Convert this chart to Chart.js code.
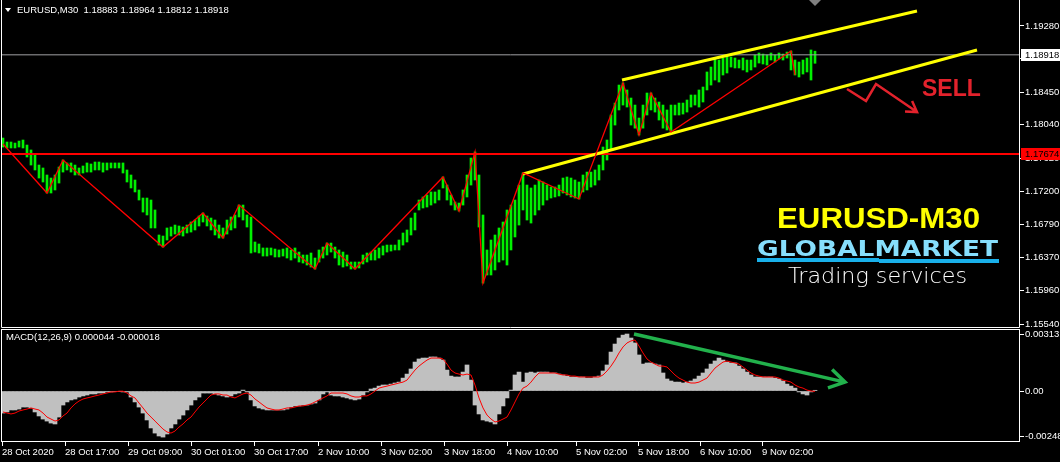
<!DOCTYPE html>
<html>
<head>
<meta charset="utf-8">
<script src="https://cdn.jsdelivr.net/npm/chart.js@4.4.1/dist/chart.umd.min.js"></script>
<style>
    html, body { margin: 0; padding: 0; background: #000; }
    #wrap { position: relative; width: 1060px; height: 462px; background: #000; overflow: hidden; }
    #priceBox { position: absolute; left: 0; top: 0; width: 1060px; height: 328px; }
    #macdBox { position: absolute; left: 0; top: 328px; width: 1060px; height: 134px; }
    canvas { display: block; }
</style>
</head>
<body>
<div id="wrap">
    <div id="priceBox"><canvas id="priceChart" width="1060" height="328"></canvas></div>
    <div id="macdBox"><canvas id="macdChart" width="1060" height="134"></canvas></div>
</div>
<script>
const symbolTitle = 'EURUSD,M30';
const lastQuote = ['1.18883', '1.18964', '1.18812', '1.18918'];
const macdTitle = 'MACD(12,26,9) 0.000044 -0.000018';

// one entry per hour
const barHigh = [
    1.17874, 1.17824, 1.17824, 1.17811, 1.17836, 1.17849, 1.17786, 1.17724, 1.17661, 1.17535,
    1.17498, 1.17410, 1.17372, 1.17410, 1.17510, 1.17598, 1.17561, 1.17561, 1.17535, 1.17498,
    1.17523, 1.17561, 1.17548, 1.17573, 1.17573, 1.17561, 1.17561, 1.17561, 1.17561, 1.17561,
    1.17561, 1.17473, 1.17410, 1.17347, 1.17222, 1.17121, 1.17121, 1.17096, 1.16971, 1.16657,
    1.16644, 1.16745, 1.16757, 1.16782, 1.16770, 1.16757, 1.16782, 1.16820, 1.16845, 1.16895,
    1.16933, 1.16895, 1.16870, 1.16845, 1.16782, 1.16745, 1.16845, 1.16883, 1.16908, 1.17033,
    1.17033, 1.16908, 1.16883, 1.16569, 1.16544, 1.16494, 1.16494, 1.16494, 1.16481, 1.16469,
    1.16481, 1.16494, 1.16469, 1.16494, 1.16443, 1.16406, 1.16406, 1.16431, 1.16368, 1.16469,
    1.16506, 1.16556, 1.16556, 1.16506, 1.16469, 1.16443, 1.16406, 1.16318, 1.16318, 1.16318,
    1.16406, 1.16431, 1.16443, 1.16469, 1.16494, 1.16519, 1.16531, 1.16531, 1.16531, 1.16594,
    1.16682, 1.16720, 1.16870, 1.16933, 1.17096, 1.17134, 1.17159, 1.17197, 1.17197, 1.17222,
    1.17385, 1.17284, 1.17159, 1.17071, 1.17058, 1.17222, 1.17410, 1.17623, 1.17699, 1.17410,
    1.16908, 1.16469, 1.16594, 1.16657, 1.16745, 1.16820, 1.16971, 1.17033, 1.17096, 1.17284,
    1.17435, 1.17284, 1.17247, 1.17284, 1.17347, 1.17322, 1.17284, 1.17259, 1.17259, 1.17284,
    1.17372, 1.17385, 1.17372, 1.17347, 1.17322, 1.17410, 1.17447, 1.17447, 1.17473, 1.17535,
    1.17761, 1.17849, 1.18163, 1.18313, 1.18539, 1.18565, 1.18477, 1.18376, 1.18288, 1.18125,
    1.18288, 1.18439, 1.18439, 1.18376, 1.18326, 1.18288, 1.18226, 1.18288, 1.18288, 1.18313,
    1.18313, 1.18351, 1.18414, 1.18414, 1.18477, 1.18514, 1.18703, 1.18765, 1.18878, 1.18853,
    1.18878, 1.18916, 1.18891, 1.18878, 1.18853, 1.18878, 1.18853, 1.18853, 1.18916, 1.18941,
    1.18928, 1.18916, 1.18941, 1.18916, 1.18941, 1.18928, 1.18953, 1.18966, 1.18853, 1.18828,
    1.18853, 1.18878, 1.18979, 1.18964
];
const barLow = [
    1.17761, 1.17749, 1.17749, 1.17749, 1.17761, 1.17749, 1.17636, 1.17535, 1.17473, 1.17372,
    1.17322, 1.17184, 1.17184, 1.17222, 1.17309, 1.17447, 1.17473, 1.17447, 1.17410, 1.17410,
    1.17435, 1.17447, 1.17447, 1.17473, 1.17473, 1.17447, 1.17473, 1.17498, 1.17498, 1.17498,
    1.17435, 1.17322, 1.17247, 1.17197, 1.17096, 1.16945, 1.16908, 1.16745, 1.16745, 1.16531,
    1.16506, 1.16594, 1.16644, 1.16669, 1.16657, 1.16644, 1.16682, 1.16694, 1.16720, 1.16770,
    1.16820, 1.16770, 1.16720, 1.16657, 1.16619, 1.16619, 1.16669, 1.16720, 1.16745, 1.16883,
    1.16845, 1.16757, 1.16431, 1.16443, 1.16431, 1.16393, 1.16393, 1.16406, 1.16381, 1.16381,
    1.16393, 1.16368, 1.16343, 1.16368, 1.16318, 1.16305, 1.16280, 1.16255, 1.16230, 1.16318,
    1.16368, 1.16406, 1.16443, 1.16368, 1.16280, 1.16255, 1.16268, 1.16230, 1.16230, 1.16243,
    1.16293, 1.16318, 1.16343, 1.16343, 1.16368, 1.16406, 1.16443, 1.16456, 1.16469, 1.16469,
    1.16531, 1.16569, 1.16657, 1.16720, 1.16971, 1.16996, 1.17008, 1.17033, 1.17058, 1.17096,
    1.17247, 1.17096, 1.17033, 1.16971, 1.16958, 1.17033, 1.17134, 1.17284, 1.17347, 1.16757,
    1.16054, 1.16155, 1.16155, 1.16218, 1.16318, 1.16343, 1.16280, 1.16469, 1.16632, 1.16782,
    1.16971, 1.16845, 1.16807, 1.16908, 1.16971, 1.17033, 1.17096, 1.17121, 1.17134, 1.17147,
    1.17184, 1.17159, 1.17134, 1.17121, 1.17109, 1.17197, 1.17222, 1.17259, 1.17284, 1.17347,
    1.17473, 1.17598, 1.17724, 1.18037, 1.18226, 1.18288, 1.18263, 1.18037, 1.17998, 1.17912,
    1.17998, 1.18163, 1.18226, 1.18200, 1.18100, 1.17998, 1.17975, 1.17949, 1.18163, 1.18163,
    1.18175, 1.18200, 1.18263, 1.18288, 1.18263, 1.18326, 1.18477, 1.18539, 1.18602, 1.18577,
    1.18665, 1.18690, 1.18765, 1.18753, 1.18753, 1.18728, 1.18703, 1.18728, 1.18765, 1.18815,
    1.18803, 1.18790, 1.18853, 1.18828, 1.18866, 1.18853, 1.18878, 1.18728, 1.18665, 1.18640,
    1.18677, 1.18703, 1.18602, 1.18812
];
const macdHist = [
    -0.00121, -0.00115, -0.00104, -0.00104, -0.00099, -0.00088, -0.00088, -0.00093, -0.00115, -0.00137,
    -0.00154, -0.00165, -0.00176, -0.00181, -0.00143, -0.00077, -0.00060, -0.00049, -0.00044, -0.00033,
    -0.00027, -0.00022, -0.00016, -0.00016, -0.00011, -0.00011, -0.00005, -0.00005, -0.00002, -0.00002,
    -0.00005, -0.00005, -0.00033, -0.00060, -0.00088, -0.00121, -0.00159, -0.00203, -0.00231, -0.00247,
    -0.00253, -0.00236, -0.00203, -0.00181, -0.00154, -0.00132, -0.00104, -0.00077, -0.00049, -0.00033,
    -0.00011, -0.00011, -0.00011, -0.00016, -0.00022, -0.00027, -0.00033, -0.00027, -0.00016, -0.00011,
    0.00005, -0.00005, -0.00049, -0.00082, -0.00093, -0.00099, -0.00104, -0.00104, -0.00104, -0.00104,
    -0.00104, -0.00099, -0.00088, -0.00082, -0.00082, -0.00077, -0.00077, -0.00071, -0.00066, -0.00049,
    -0.00016, -0.00005, -0.00022, -0.00027, -0.00027, -0.00033, -0.00038, -0.00044, -0.00049, -0.00044,
    -0.00022, -0.00005, 0.00011, 0.00016, 0.00027, 0.00033, 0.00033, 0.00038, 0.00044, 0.00049,
    0.00071, 0.00093, 0.00121, 0.00159, 0.00176, 0.00181, 0.00181, 0.00187, 0.00187, 0.00181,
    0.00170, 0.00115, 0.00082, 0.00077, 0.00077, 0.00104, 0.00143, 0.00060, -0.00077, -0.00126,
    -0.00159, -0.00165, -0.00170, -0.00181, -0.00126, -0.00082, -0.00038, 0.00005, 0.00088, 0.00104,
    0.00049, 0.00099, 0.00104, 0.00099, 0.00104, 0.00104, 0.00104, 0.00099, 0.00099, 0.00093,
    0.00088, 0.00082, 0.00077, 0.00077, 0.00077, 0.00077, 0.00071, 0.00071, 0.00077, 0.00082,
    0.00110, 0.00143, 0.00214, 0.00258, 0.00291, 0.00307, 0.00313, 0.00291, 0.00264, 0.00198,
    0.00148, 0.00154, 0.00154, 0.00148, 0.00143, 0.00099, 0.00066, 0.00055, 0.00049, 0.00049,
    0.00044, 0.00049, 0.00055, 0.00066, 0.00082, 0.00099, 0.00121, 0.00148, 0.00165, 0.00181,
    0.00170, 0.00159, 0.00154, 0.00154, 0.00137, 0.00121, 0.00104, 0.00088, 0.00077, 0.00077,
    0.00077, 0.00077, 0.00077, 0.00071, 0.00066, 0.00055, 0.00038, 0.00027, 0.00016, -0.00005,
    -0.00016, -0.00022, -0.00005, 0.00004
];
const macdSignal = [
    -0.00115, -0.00121, -0.00126, -0.00121, -0.00110, -0.00104, -0.00099, -0.00093, -0.00099, -0.00104,
    -0.00121, -0.00143, -0.00154, -0.00165, -0.00159, -0.00137, -0.00121, -0.00093, -0.00071, -0.00055,
    -0.00044, -0.00038, -0.00033, -0.00027, -0.00022, -0.00016, -0.00011, -0.00005, -0.00005, -0.00001,
    -0.00001, -0.00011, -0.00027, -0.00038, -0.00066, -0.00093, -0.00121, -0.00143, -0.00165, -0.00187,
    -0.00209, -0.00225, -0.00231, -0.00220, -0.00198, -0.00181, -0.00159, -0.00143, -0.00115, -0.00088,
    -0.00066, -0.00044, -0.00022, -0.00016, -0.00016, -0.00022, -0.00022, -0.00033, -0.00038, -0.00027,
    -0.00016, -0.00011, -0.00022, -0.00044, -0.00060, -0.00077, -0.00093, -0.00099, -0.00104, -0.00104,
    -0.00099, -0.00093, -0.00093, -0.00088, -0.00082, -0.00082, -0.00077, -0.00071, -0.00060, -0.00049,
    -0.00038, -0.00027, -0.00011, -0.00011, -0.00011, -0.00011, -0.00016, -0.00027, -0.00033, -0.00033,
    -0.00027, -0.00027, -0.00016, 0.00000, 0.00016, 0.00022, 0.00027, 0.00033, 0.00038, 0.00044,
    0.00049, 0.00060, 0.00088, 0.00115, 0.00137, 0.00154, 0.00170, 0.00181, 0.00181, 0.00181,
    0.00176, 0.00148, 0.00115, 0.00099, 0.00093, 0.00088, 0.00093, 0.00088, 0.00033, -0.00038,
    -0.00093, -0.00132, -0.00154, -0.00170, -0.00165, -0.00154, -0.00143, -0.00104, -0.00060, -0.00016,
    0.00016, 0.00027, 0.00049, 0.00077, 0.00099, 0.00099, 0.00099, 0.00099, 0.00099, 0.00093,
    0.00088, 0.00088, 0.00082, 0.00082, 0.00077, 0.00077, 0.00077, 0.00077, 0.00077, 0.00077,
    0.00088, 0.00110, 0.00137, 0.00170, 0.00209, 0.00242, 0.00264, 0.00275, 0.00280, 0.00247,
    0.00209, 0.00176, 0.00159, 0.00148, 0.00137, 0.00137, 0.00132, 0.00110, 0.00088, 0.00071,
    0.00060, 0.00049, 0.00044, 0.00044, 0.00049, 0.00060, 0.00071, 0.00099, 0.00126, 0.00143,
    0.00159, 0.00165, 0.00159, 0.00154, 0.00148, 0.00132, 0.00115, 0.00099, 0.00088, 0.00082,
    0.00077, 0.00077, 0.00077, 0.00077, 0.00071, 0.00060, 0.00055, 0.00049, 0.00033, 0.00022,
    0.00016, 0.00005, 0.00000, -0.00002
];

// zigzag pivots (bar index, price)
const zigzagBar = [0, 11, 15, 40, 50, 55, 59, 78, 81, 88, 110, 114, 118, 120, 130, 144, 155, 159, 162, 167, 197, 198];
const zigzagPrice = [1.17799, 1.17184, 1.17598, 1.16506, 1.16933, 1.16619, 1.17033, 1.16230, 1.16556, 1.16230, 1.17385,
    1.16958, 1.17699, 1.16054, 1.17435, 1.17109, 1.18565, 1.17912, 1.18439, 1.17949, 1.18966, 1.18665];

// drawn objects, anchored as (bar index, value)
const upperChannel = [[154.75, 1.18602], [228.5, 1.19468]];
const lowerChannel = [[130, 1.17422], [243.5, 1.18979]];
const supportLevel = 1.17674;
const bidPrice = 1.18918;
const sellArrow = [[211, 1.18489], [215.75, 1.18339], [218.25, 1.18552], [228.5, 1.18200]];
const sellLabel = [229.75, 1.18402];
const macdArrow = [[157.75, 0.00313], [210.5, 0.00049]];

const priceTicks = [1.19280, 1.18870, 1.18450, 1.18040, 1.17620, 1.17200, 1.16790, 1.16370, 1.15960, 1.15540];
const macdTicks = [0.003131, 0, -0.00248];
const macdTickText = ['0.003131', '0.00', '-0.00248'];
const timeTickBar = [-0.25, 15.5, 31.25, 47, 62.75, 78.75, 94.5, 110.25, 126, 143.25, 158.75, 174.25, 189.75];
const timeLabels = ['28 Oct 2020', '28 Oct 17:00', '29 Oct 09:00', '30 Oct 01:00', '30 Oct 17:00', '2 Nov 10:00',
    '3 Nov 02:00', '3 Nov 18:00', '4 Nov 10:00', '5 Nov 02:00', '5 Nov 18:00', '6 Nov 10:00', '9 Nov 02:00'];

const barMin = -0.5, barMax = 254.25;
const priceMin = 1.154898, priceMax = 1.195812;
const macdMin = -0.0028, macdMax = 0.003406;

const axisFont = { family: 'Liberation Sans', size: 9.5 };
const fontCss = '9.5px "Liberation Sans"';

function toPoints(pairs) {
    return pairs.map(function(p) { return { x: p[0], y: p[1] }; });
}

// chart.js reserves room for end labels; the MT4 panels run edge to edge
function noScalePadding(s) {
    s.paddingTop = 0;
    s.paddingBottom = 0;
    s.paddingLeft = 0;
    s.paddingRight = 0;
}

function drawArrow(ctx, pts, color, width, head) {
    ctx.save();
    ctx.strokeStyle = color;
    ctx.lineWidth = width;
    ctx.lineJoin = 'miter';
    ctx.beginPath();
    pts.forEach(function(p, i) { if (i) ctx.lineTo(p.x, p.y); else ctx.moveTo(p.x, p.y); });
    const a = pts[pts.length - 2], b = pts[pts.length - 1];
    const ang = Math.atan2(b.y - a.y, b.x - a.x);
    ctx.moveTo(b.x - head * Math.cos(ang - 0.55), b.y - head * Math.sin(ang - 0.55));
    ctx.lineTo(b.x, b.y);
    ctx.lineTo(b.x - head * Math.cos(ang + 0.55), b.y - head * Math.sin(ang + 0.55));
    ctx.stroke();
    ctx.restore();
}

function fitText(ctx, text, x, y, width, font, fill) {
    ctx.save();
    ctx.font = font;
    ctx.textBaseline = 'alphabetic';
    ctx.textAlign = 'left';
    const w = ctx.measureText(text).width;
    ctx.translate(x, y);
    ctx.scale(width / w, 1);
    ctx.fillStyle = fill;
    ctx.fillText(text, 0, 0);
    ctx.restore();
}

const priceOverlay = {
    id: 'priceOverlay',
    afterDraw(chart) {
        const ctx = chart.ctx, a = chart.chartArea, x = chart.scales.x, y = chart.scales.y;
        ctx.save();

        ctx.strokeStyle = '#ffffff';
        ctx.lineWidth = 1;
        ctx.beginPath();
        ctx.moveTo(a.left + 0.5, 0);
        ctx.lineTo(a.left + 0.5, a.bottom - 0.5);
        ctx.lineTo(a.right - 0.5, a.bottom - 0.5);
        ctx.lineTo(a.right - 0.5, 0);
        ctx.stroke();

        // shift marker
        const sx = x.getPixelForValue(barHigh.length - 1);
        ctx.fillStyle = '#808080';
        ctx.beginPath();
        ctx.moveTo(sx - 6, 0); ctx.lineTo(sx + 6, 0); ctx.lineTo(sx, 6); ctx.closePath();
        ctx.fill();

        // header
        ctx.fillStyle = '#ffffff';
        ctx.beginPath();
        ctx.moveTo(5, 8); ctx.lineTo(11, 8); ctx.lineTo(8, 12); ctx.closePath();
        ctx.fill();
        ctx.font = fontCss;
        ctx.textBaseline = 'middle';
        ctx.fillText(symbolTitle + '  ' + lastQuote.join(' '), 17, 10);

        // price tags on the scale
        function tag(value, bg) {
            const py = Math.round(y.getPixelForValue(value));
            ctx.fillStyle = bg;
            ctx.fillRect(a.right + 1, py - 6, 40, 12);
            ctx.fillStyle = '#000000';
            ctx.font = fontCss;
            ctx.textBaseline = 'middle';
            ctx.fillText(value.toFixed(5), a.right + 5, py);
        }
        tag(bidPrice, '#ffffff');
        tag(supportLevel, '#ff0000');

        // sell annotation
        drawArrow(ctx, toPoints(sellArrow).map(function(p) {
            return { x: x.getPixelForValue(p.x), y: y.getPixelForValue(p.y) };
        }), '#e3222c', 2.5, 12);
        ctx.fillStyle = '#e3222c';
        ctx.font = 'bold 23px "Liberation Sans"';
        ctx.textBaseline = 'alphabetic';
        ctx.fillText('SELL', x.getPixelForValue(sellLabel[0]), y.getPixelForValue(sellLabel[1]));

        // watermark
        const r = a.right;
        fitText(ctx, 'EURUSD-M30', r - 243, 228, 203, 'bold 30px "Liberation Sans"', '#ffff00');
        const grad = ctx.createLinearGradient(0, 240, 0, 257);
        grad.addColorStop(0, '#86defc');
        grad.addColorStop(0.45, '#27b6ee');
        grad.addColorStop(1, '#0a6db6');
        fitText(ctx, 'GLOBALMARKET', r - 263, 256, 241, 'bold 21px "DejaVu Sans"', grad);
        ctx.fillStyle = '#19b0ea';
        ctx.fillRect(r - 263, 258, 122, 4);
        ctx.fillRect(r - 141, 259, 120, 4);
        fitText(ctx, 'Trading services', r - 232, 283, 179, '200 21px "DejaVu Sans"', '#ffffff');

        ctx.restore();
    }
};

const macdOverlay = {
    id: 'macdOverlay',
    afterDraw(chart) {
        const ctx = chart.ctx, a = chart.chartArea, x = chart.scales.x, y = chart.scales.y;
        ctx.save();
        ctx.strokeStyle = '#ffffff';
        ctx.lineWidth = 1;
        ctx.strokeRect(a.left + 0.5, a.top + 0.5, a.right - a.left - 1, a.bottom - a.top - 1);

        drawArrow(ctx, toPoints(macdArrow).map(function(p) {
            return { x: x.getPixelForValue(p.x), y: y.getPixelForValue(p.y) };
        }), '#22b14c', 3.5, 18);

        ctx.fillStyle = '#ffffff';
        ctx.font = fontCss;
        ctx.textBaseline = 'middle';
        ctx.fillText(macdTitle, 6, 9);
        ctx.restore();
    }
};

Chart.defaults.font.family = 'Liberation Sans';

new Chart(document.getElementById('priceChart'), {
    type: 'bar',
    data: {
        datasets: [
            { type: 'line', data: zigzagBar.map(function(b, i) { return { x: b, y: zigzagPrice[i] }; }), borderColor: '#ff0000', borderWidth: 1.3, pointRadius: 0, tension: 0 },
            { type: 'line', data: toPoints(upperChannel), borderColor: '#ffff00', borderWidth: 3, pointRadius: 0 },
            { type: 'line', data: toPoints(lowerChannel), borderColor: '#ffff00', borderWidth: 3, pointRadius: 0 },
            { type: 'line', data: [{ x: barMin, y: supportLevel }, { x: barMax, y: supportLevel }], borderColor: '#ff0000', borderWidth: 2, pointRadius: 0 },
            { type: 'line', data: [{ x: barMin, y: bidPrice }, { x: barMax, y: bidPrice }], borderColor: '#a0a0a4', borderWidth: 1, pointRadius: 0 },
            { type: 'bar', data: barHigh.map(function(h, i) { return { x: i, y: [barLow[i], h] }; }), backgroundColor: '#00f000', barThickness: 2 }
        ]
    },
    options: {
        responsive: false,
        animation: false,
        events: [],
        layout: { padding: { left: 1, top: 2, right: 0, bottom: 0 } },
        plugins: { legend: { display: false }, tooltip: { enabled: false } },
        scales: {
            x: { type: 'linear', min: barMin, max: barMax, offset: false, display: false },
            y: {
                position: 'right', min: priceMin, max: priceMax,
                afterBuildTicks: function(s) { s.ticks = priceTicks.map(function(v) { return { value: v }; }); },
                afterFit: function(s) { s.width = 40; noScalePadding(s); },
                grid: { drawOnChartArea: false, color: '#ffffff', tickLength: 4 },
                border: { display: false },
                ticks: { color: '#ffffff', font: axisFont, padding: 1, autoSkip: false, callback: function(v) { return v.toFixed(5); } }
            }
        }
    },
    plugins: [priceOverlay]
});

new Chart(document.getElementById('macdChart'), {
    type: 'bar',
    data: {
        datasets: [
            { type: 'line', data: macdSignal.map(function(v, i) { return { x: i, y: v }; }), borderColor: '#ff0000', borderWidth: 1, pointRadius: 0, tension: 0 },
            { type: 'bar', data: macdHist.map(function(v, i) { return { x: i, y: v }; }), backgroundColor: '#c0c0c0', barThickness: 4 }
        ]
    },
    options: {
        responsive: false,
        animation: false,
        events: [],
        layout: { padding: { left: 1, top: 1, right: 0, bottom: 0 } },
        plugins: { legend: { display: false }, tooltip: { enabled: false } },
        scales: {
            x: {
                type: 'linear', min: barMin, max: barMax, offset: false, position: 'bottom',
                afterBuildTicks: function(s) { s.ticks = timeTickBar.map(function(v) { return { value: v }; }); },
                afterFit: function(s) { s.height = 20; noScalePadding(s); },
                grid: { drawOnChartArea: false, offset: false, color: '#ffffff', tickLength: 4 },
                border: { display: false },
                ticks: { color: '#ffffff', font: axisFont, padding: 1, align: 'start', autoSkip: false, maxRotation: 0, minRotation: 0,
                    callback: function(v, i) { return timeLabels[i]; } }
            },
            y: {
                position: 'right', min: macdMin, max: macdMax,
                afterBuildTicks: function(s) { s.ticks = macdTicks.map(function(v) { return { value: v }; }); },
                afterFit: function(s) { s.width = 40; noScalePadding(s); },
                grid: { drawOnChartArea: false, color: '#ffffff', tickLength: 4 },
                border: { display: false },
                ticks: { color: '#ffffff', font: axisFont, padding: 1, autoSkip: false, callback: function(v, i) { return macdTickText[i]; } }
            }
        }
    },
    plugins: [macdOverlay]
});
</script>
</body>
</html>
